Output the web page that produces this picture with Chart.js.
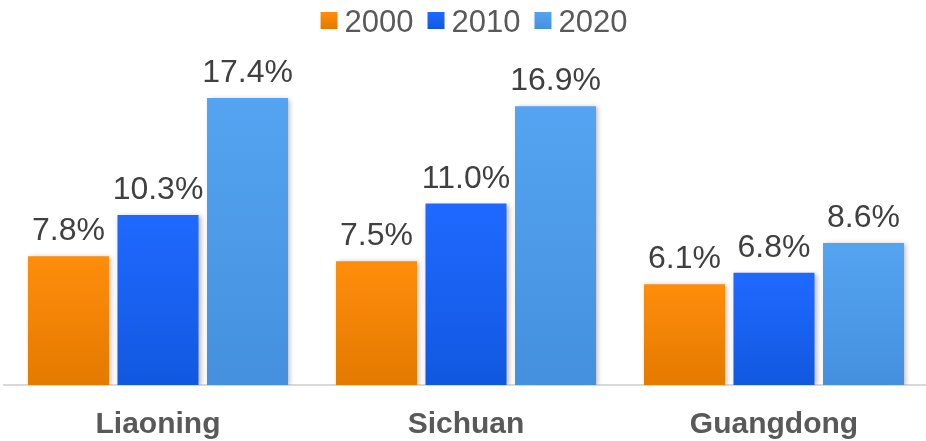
<!DOCTYPE html>
<html>
<head>
<meta charset="utf-8">
<script src="https://cdn.jsdelivr.net/npm/chart.js@4"></script>
<style>
  html, body { margin: 0; padding: 0; background: #fff; overflow: hidden; }
  #wrap { position: relative; width: 932px; height: 468px; }
</style>
</head>
<body>
<div id="wrap"><canvas id="chart"></canvas></div>
<script>
const FONT = "'Liberation Sans', Arial, sans-serif";

const categories = ["Liaoning", "Sichuan", "Guangdong"];
const years = ["2000", "2010", "2020"];
const share2000 = [7.8, 7.5, 6.1];
const share2010 = [10.3, 11.0, 6.8];
const share2020 = [17.4, 16.9, 8.6];

// top / bottom colour of each series' vertical gradient
const SHADES = [
  ["#FF8D0B", "#E47A00"],
  ["#2069FF", "#1158E0"],
  ["#54A4F1", "#4490DF"]
];

function barFill(i) {
  return (c) => {
    const chart = c.chart;
    const y = chart.scales.y;
    if (!chart.chartArea || !y || c.parsed == null) return SHADES[i][0];
    const top = y.getPixelForValue(c.parsed.y);
    const base = y.getPixelForValue(0);
    const g = chart.ctx.createLinearGradient(0, top, 0, base);
    g.addColorStop(0, SHADES[i][0]);
    g.addColorStop(1, SHADES[i][1]);
    return g;
  };
}

/* bars with soft shadow + value labels above */
const barDecor = {
  id: "barDecor",
  beforeDatasetsDraw(chart) {
    const ctx = chart.ctx;
    ctx.save();
    ctx.shadowColor = "rgba(0,0,0,0.28)";
    ctx.shadowBlur = 5;
    ctx.shadowOffsetX = 2;
    ctx.shadowOffsetY = 1;
  },
  afterDatasetsDraw(chart) {
    const ctx = chart.ctx;
    ctx.restore();
    ctx.save();
    ctx.font = "32px " + FONT;
    ctx.fillStyle = "#404040";
    ctx.textAlign = "center";
    ctx.textBaseline = "alphabetic";
    chart.data.datasets.forEach((ds, di) => {
      chart.getDatasetMeta(di).data.forEach((bar, i) => {
        ctx.fillText(ds.data[i].toFixed(1) + "%", bar.x, bar.y - 16);
      });
    });
    ctx.restore();
  }
};

/* legend row at the top: square swatch + year */
const topLegend = {
  id: "topLegend",
  afterDraw(chart) {
    const ctx = chart.ctx;
    ctx.save();
    ctx.font = "31px " + FONT;
    ctx.textBaseline = "alphabetic";
    const box = 17, gap = 7, spacing = 14;
    const items = chart.data.datasets.map((ds) => ({ label: ds.label, w: ctx.measureText(ds.label).width }));
    const total = items.reduce((s, it) => s + box + gap + it.w, 0) + spacing * (items.length - 1);
    let x = 474 - total / 2;
    items.forEach((it, i) => {
      const g = ctx.createLinearGradient(0, 12, 0, 29);
      g.addColorStop(0, SHADES[i][0]);
      g.addColorStop(1, SHADES[i][1]);
      ctx.fillStyle = g;
      ctx.fillRect(x, 12, box, box);
      x += box + gap;
      ctx.fillStyle = "#595959";
      ctx.fillText(it.label, x, 32);
      x += it.w + spacing;
    });
    ctx.restore();
  }
};

new Chart(document.getElementById("chart"), {
  type: "bar",
  data: {
    labels: categories,
    datasets: [share2000, share2010, share2020].map((vals, i) => ({
      label: years[i],
      data: vals,
      backgroundColor: barFill(i),
      borderWidth: 0,
      categoryPercentage: 0.872,
      barPercentage: 0.905
    }))
  },
  options: {
    responsive: true,
    maintainAspectRatio: false,
    animation: false,
    layout: { padding: { top: 55, left: 4, right: 4, bottom: 3 } },
    plugins: { legend: { display: false }, tooltip: { enabled: false } },
    scales: {
      x: {
        grid: { display: false, drawTicks: false },
        border: { color: "#D9D9D9", width: 2 },
        ticks: { color: "#595959", padding: 22, font: { family: FONT, size: 30, weight: "bold" } }
      },
      y: { display: false, min: 0, max: 20 }
    }
  },
  plugins: [barDecor, topLegend]
});
</script>
</body>
</html>
